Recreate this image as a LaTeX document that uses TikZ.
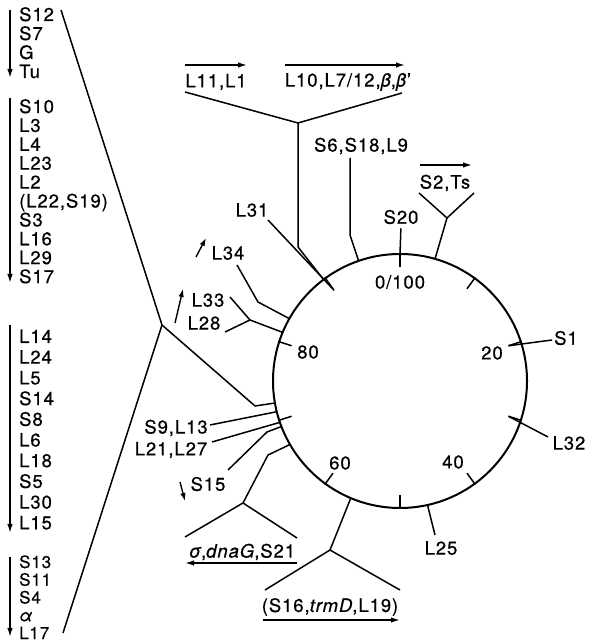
\documentclass[tikz,border=0pt]{standalone}
\usepackage{fontspec}
\setmainfont{TeX Gyre Heros}[LetterSpace=5, FakeBold=0.5]
\usepackage{tikz}
\usetikzlibrary{positioning, arrows.meta, calc}

\tikzset{
  lbl/.style={inner sep=1pt, font=\fontsize{18.5}{20}\selectfont},
  gene/.style={lbl, inner sep=0pt, text height=12pt, text depth=0pt, anchor=west},
  tightgene/.style={gene, font=\fontsize{17}{18}\selectfont},
  link/.style={line width=1.5pt, line join=round},
  dir/.style={line width=1.5pt, -{Latex[length=9pt,width=5.5pt]}},
  nudge/.style={line width=1.4pt, -{Latex[length=8pt,width=5.5pt]}}
}

\begin{document}
\begin{tikzpicture}[x=1pt, y=1pt]
  \useasboundingbox (0,0) rectangle (588,644);

  % map circle, 0/100 at the top, clockwise
  \coordinate (c) at (400,263);
  \draw[line width=2pt] (c) circle (127pt);
  \foreach \p in {0,10,...,90}
    \draw[link] ($(c)+({90-3.6*\p}:114pt)$) -- ($(c)+({90-3.6*\p}:128pt)$);
  \node[lbl] (n0) at (400,362) {0/100};
  \node[lbl] (n20) at (492,291) {20};
  \node[lbl] (n40) at (453,182) {40};
  \node[lbl] (n60) at (340,181) {60};
  \node[lbl] (n80) at (308,292) {80};

  % points on the ring
  \coordinate (atS20) at ($(c)+(90:127pt)$);
  \coordinate (atS2) at ($(c)+(74:127pt)$);
  \coordinate (atS6) at ($(c)+(109:127pt)$);
  \coordinate (atL10) at ($(c)+(127:127pt)$);
  \coordinate (atL34) at ($(c)+(150.6:127pt)$);
  \coordinate (atL33) at ($(c)+(157.5:127pt)$);
  \coordinate (atS10) at ($(c)+(190:127pt)$);
  \coordinate (atS9) at ($(c)+(194:127pt)$);
  \coordinate (atL21) at ($(c)+(199:127pt)$);
  \coordinate (atS15) at ($(c)+(201:127pt)$);
  \coordinate (atS21) at ($(c)+(210:127pt)$);
  \coordinate (atS16) at ($(c)+(247.2:127pt)$);
  \coordinate (atL25) at ($(c)+(282.5:127pt)$);
  \coordinate (inS1) at ($(c)+(18:114pt)$);
  \coordinate (inL32) at ($(c)+(-18:114pt)$);
  \coordinate (inL31) at ($(c)+(126:112pt)$);

  % left column of operons
  \draw[dir] (10,634) -- (10,566);
  \foreach \g [count=\i] in {S12,S7,G,Tu}
    \node[gene] (a\i) at (19,{629-19*(\i-1)}) {\g};
  \draw[dir] (10,546) -- (10,361);
  \foreach \g [count=\i] in {S10,L3,L4,L23,L2,{(L22,S19)},S3,L16,L29,S17}
    \node[gene] (b\i) at (19,{537-18.9*(\i-1)}) {\g};
  \draw[dir] (10,319) -- (10,111);
  \foreach \g [count=\i] in {L14,L24,L5,S14,S8,L6,L18,S5,L30,L15}
    \node[gene] (d\i) at (19,{307-20.7*(\i-1)}) {\g};
  \draw[dir] (10,87) -- (10,7);
  \foreach \g [count=\i] in {S13,S11,S4,\textit{α},L17}
    \node[tightgene] (e\i) at (19,{82-17.75*(\i-1)}) {\g};

  \coordinate (hub) at (162,319);
  \coordinate (hubtop) at (61,634);
  \coordinate (hubbot) at (63,11);
  \coordinate (hubbend) at (255,238);
  \draw[link] (hubtop) -- (hub) -- (hubbot);
  \draw[link] (hub) -- (hubbend) -- (atS10);

  % top fork
  \node[lbl] (l11) at (216,562) {L11,L1};
  \node[lbl] (l10) at (348,562) {L10,L7/12,\textit{β},\textit{β}'};
  \draw[dir] (185,579) -- (247,579);
  \draw[dir] (285,579) -- (405,579);
  \coordinate (topfork) at (298,521);
  \coordinate (topbend) at (298,397);
  \draw[link] (185,552) -- (topfork) -- (402,551);
  \draw[link] (topfork) -- (topbend) -- (atL10);

  \node[lbl] (s6) at (361,498) {S6,S18,L9};
  \coordinate (s6top) at (350,486);
  \coordinate (s6bend) at (350,409);
  \draw[link] (s6top) -- (s6bend) -- (atS6);

  \node[lbl] (s20) at (401,427) {S20};
  \draw[link, shorten >=3pt] (atS20) -- (s20.south);

  \node[lbl] (s2) at (445,461) {S2,Ts};
  \draw[dir] (420,479) -- (472,479);
  \coordinate (s2fork) at (447,426);
  \draw[link] (419,451) -- (s2fork) -- (474,451);
  \draw[link] (s2fork) -- (atS2);

  \node[lbl] (l31) at (252,434) {L31};
  \coordinate (l31end) at (268,424);
  \draw[link] (l31end) -- (inL31);

  \node[lbl] (l34) at (228,391) {L34};
  \coordinate (l34end) at (237,379);
  \coordinate (l34bend) at (258,342);
  \draw[link] (l34end) -- (l34bend) -- (atL34);
  \draw[nudge] (196,387) -- (206,406);

  \node[lbl] (l33) at (208,344) {L33};
  \node[lbl] (l28) at (204,321) {L28};
  \coordinate (l33fork) at (250,324);
  \draw[link] (230,347) -- (l33fork) -- (225,312);
  \draw[link] (l33fork) -- (atL33);
  \draw[nudge] (175,321) -- (183,355);

  % right side
  \node[lbl] (s1) at (566,306) {S1};
  \coordinate (s1end) at (552,304);
  \draw[link] (inS1) -- (s1end);
  \node[lbl] (l32) at (569,201) {L32};
  \coordinate (l32end) at (548,207);
  \draw[link] (inL32) -- (l32end);
  \node[lbl] (l25) at (441,96) {L25};
  \coordinate (l25end) at (435,109);
  \draw[link] (atL25) -- (l25end);

  % lower left
  \node[lbl] (s9) at (176,216) {S9,L13};
  \coordinate (s9end) at (210,219);
  \draw[link] (s9end) -- (atS9);
  \node[lbl] (l21) at (171,194) {L21,L27};
  \coordinate (l21end) at (212,202);
  \draw[link] (l21end) -- (atL21);
  \node[lbl] (s15) at (208,160) {S15};
  \coordinate (s15end) at (228,174);
  \coordinate (s15bend) at (267,212);
  \draw[link] (s15end) -- (s15bend) -- (atS15);
  \draw[nudge] (180,162) -- (185,143);

  \node[lbl] (s21) at (242,92) {\textit{σ},\textit{dnaG},S21};
  \draw[dir] (297,81) -- (185,81);
  \coordinate (s21fork) at (243,141);
  \coordinate (s21bend) at (268,189);
  \draw[link] (185,107) -- (s21fork) -- (297,106);
  \draw[link] (s21fork) -- (s21bend) -- (atS21);

  \node[lbl] (s16) at (330,37) {(S16,\textit{trmD},L19)};
  \draw[dir] (263,24) -- (400,24);
  \coordinate (s16fork) at (330,94);
  \draw[link] (265,54) -- (s16fork) -- (400,54);
  \draw[link] (s16fork) -- (atS16);
\end{tikzpicture}
\end{document}
